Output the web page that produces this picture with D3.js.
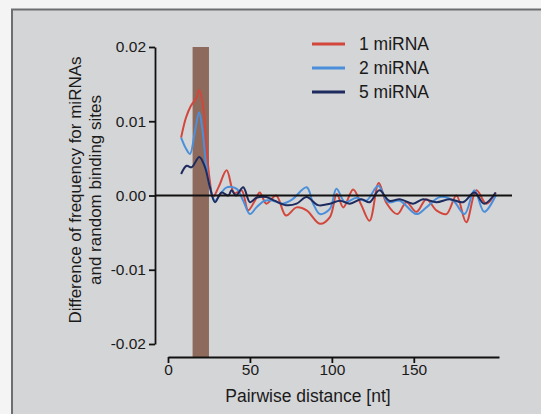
<!DOCTYPE html>
<html>
<head>
<meta charset="utf-8">
<script src="https://cdn.jsdelivr.net/npm/d3@7"></script>
<style>
  body { margin: 0; background: #f4f4f4; }
  svg { display: block; font-family: "Liberation Sans", Arial, sans-serif; }
</style>
</head>
<body>
<div id="chart"></div>
<script>
// series: [pairwise distance, difference]
var red1 = [[8,0.0078],[11,0.0105],[14,0.0121],[17.5,0.0132],[19,0.0142],[21.5,0.0119],[23.5,0.0065],[25.5,0.002],[27.5,-0.0002],[31,0.0012],[35.8,0.0034],[40.5,0.0003],[44.9,0.0007],[48.9,-0.002],[53,-0.0007],[56,0.0004],[60,-0.0011],[66,0],[72,-0.0027],[78.5,-0.0016],[84.6,-0.002],[92.7,-0.0038],[98.8,-0.0029],[103,0.0002],[107,-0.0016],[113,0.0008],[118,-0.0013],[123,-0.0034],[128.6,0.0017],[133.3,-0.001],[140,-0.0025],[145.5,-0.0009],[151.6,-0.0022],[157.7,-0.0005],[163.8,-0.002],[169.9,-0.0025],[176,0],[182,-0.0036],[188.2,0.0007],[194.3,-0.0011],[200,0.0004]];
var blue2 = [[8,0.0078],[11,0.0063],[13.4,0.0056],[16.5,0.0087],[19,0.0112],[21.1,0.0087],[23.2,0.0043],[25.6,0.0011],[28.7,-0.0007],[32,0.0002],[35.8,0.0011],[41.9,0.0009],[45.9,-0.0007],[50,-0.0025],[54,-0.0016],[59,-0.0007],[64,-0.0007],[70,-0.0011],[76,-0.0005],[84.6,0.0011],[88.6,-0.0011],[92.7,-0.0025],[98.8,-0.0018],[102.8,0.0009],[108,-0.0009],[115,-0.0003],[121,-0.0007],[128.3,0.0013],[134.3,-0.0009],[141.5,-0.0007],[151.6,-0.0025],[157.7,-0.0016],[166,-0.0002],[174,-0.0007],[181,-0.0025],[187,0.0007],[193,-0.0022],[200,0]];
var navy5 = [[8,0.0029],[11.4,0.004],[14.4,0.0038],[19.1,0.0052],[22.6,0.0038],[25.6,0.0011],[28.7,-0.0009],[32.7,0.0004],[36.8,0],[38.8,0.0007],[41.5,0],[45.9,0.0011],[50,-0.0009],[54,-0.0003],[60,-0.0002],[65,-0.0007],[72,-0.0013],[78.5,-0.0011],[84.6,-0.0002],[91.6,-0.0013],[98.8,-0.0011],[104.9,-0.0007],[111,-0.0011],[118,-0.0005],[123,-0.0009],[129,0.0007],[135,-0.0007],[141.5,-0.0005],[149.6,-0.0011],[155.7,-0.0005],[163.8,-0.0009],[171.9,-0.0005],[180,-0.0009],[187,0.0004],[193,-0.0011],[200,0.0004]];

var seriesNames = ["1 miRNA", "2 miRNA", "5 miRNA"];
var seriesColors = ["#d2463b", "#4b8fdb", "#1e2b5e"];
var yTicks = [0.02, 0.01, 0.00, -0.01, -0.02];
var xTicks = [0, 50, 100, 150];
var band = [15, 25];

var W = 541, H = 414;
var font = "'Liberation Sans', Arial, sans-serif";
var svg = d3.select("#chart").append("svg")
    .attr("width", W).attr("height", H);

// panel
svg.append("rect")
    .attr("x", 11).attr("y", 9)
    .attr("width", W - 11).attr("height", H - 9)
    .attr("fill", "#d4d5d7");
svg.append("path")
    .attr("d", "M12," + H + "V9.5H" + W)
    .attr("fill", "none").attr("stroke", "#6c6e71").attr("stroke-width", 2);

var x = d3.scaleLinear().domain([0, 202]).range([168, 499]);
var y = d3.scaleLinear().domain([-0.02, 0.02]).range([344, 47]);
var xAxisY = 357;

// highlighted band
svg.append("rect")
    .attr("x", x(band[0]))
    .attr("y", y(0.02))
    .attr("width", x(band[1]) - x(band[0]))
    .attr("height", xAxisY - y(0.02))
    .attr("fill", "#8e6a5d");

// lines
var line = d3.line()
    .x(function(d) { return x(d[0]); })
    .y(function(d) { return y(d[1]); })
    .curve(d3.curveCatmullRom.alpha(0.5));

[red1, blue2, navy5].forEach(function(s, i) {
    svg.append("path")
        .datum(s)
        .attr("d", line)
        .attr("fill", "none")
        .attr("stroke", seriesColors[i])
        .attr("stroke-width", 2)
        .attr("stroke-linejoin", "round");
});

// zero line
svg.append("line")
    .attr("x1", 155).attr("x2", 512)
    .attr("y1", y(0)).attr("y2", y(0))
    .attr("stroke", "#111").attr("stroke-width", 1.8);

// y axis
var yAxis = svg.append("g")
    .attr("transform", "translate(155,0)")
    .call(d3.axisLeft(y).tickValues(yTicks).tickSize(6).tickSizeOuter(0)
        .tickFormat(function(d) { return d3.format(".2f")(d).replace("−", "-"); }));
yAxis.select(".domain").attr("stroke", "#111").attr("stroke-width", 1.8);
yAxis.selectAll(".tick line").attr("stroke", "#111").attr("stroke-width", 1.8);
yAxis.selectAll(".tick text")
    .attr("font-size", 15.5).attr("fill", "#1a1a1a")
    .attr("x", -9).attr("dy", "0.32em")
    .attr("font-family", font);

// x axis
var xAxis = svg.append("g")
    .attr("transform", "translate(0," + xAxisY + ")")
    .call(d3.axisBottom(x).tickValues(xTicks).tickSize(6).tickSizeOuter(0));
xAxis.select(".domain").attr("stroke", "#111").attr("stroke-width", 1.8);
xAxis.selectAll(".tick line").attr("stroke", "#111").attr("stroke-width", 1.8);
xAxis.selectAll(".tick text")
    .attr("font-size", 15.5).attr("fill", "#1a1a1a")
    .attr("y", 7)
    .attr("font-family", font);

// axis titles
svg.append("text")
    .attr("x", 308).attr("y", 402)
    .attr("text-anchor", "middle")
    .attr("font-size", 17.5).attr("fill", "#1a1a1a")
    .attr("font-family", font)
    .text("Pairwise distance [nt]");

var yt = svg.append("text")
    .attr("transform", "translate(81,190) rotate(-90)")
    .attr("text-anchor", "middle")
    .attr("font-size", 17).attr("fill", "#1a1a1a")
    .attr("font-family", font);
yt.append("tspan").attr("x", 0).attr("y", 0).text("Difference of frequency for miRNAs");
yt.append("tspan").attr("x", 0).attr("y", 20).text("and random binding sites");

// legend
seriesNames.forEach(function(name, i) {
    var ly = 44 + i * 24;
    svg.append("line")
        .attr("x1", 312).attr("x2", 345)
        .attr("y1", ly).attr("y2", ly)
        .attr("stroke", seriesColors[i]).attr("stroke-width", 3);
    svg.append("text")
        .attr("x", 359).attr("y", ly + 6)
        .attr("font-size", 17.5).attr("fill", "#1a1a1a")
        .attr("font-family", font)
        .text(name);
});
</script>
</body>
</html>
